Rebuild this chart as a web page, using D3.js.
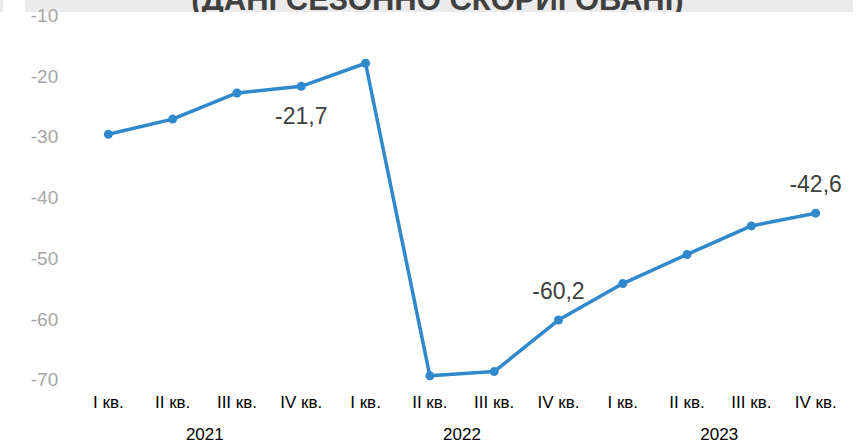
<!DOCTYPE html>
<html>
<head>
<meta charset="utf-8">
<script src="https://cdn.jsdelivr.net/npm/d3@7"></script>
<style>
  body { margin: 0; background: #fff; }
  text { font-family: "Liberation Sans", Arial, sans-serif; }
</style>
</head>
<body>
<div id="chart"></div>
<script>
var width = 861,
    height = 445;

// data
var quarters = ["I кв.", "II кв.", "III кв.", "IV кв.",
                "I кв.", "II кв.", "III кв.", "IV кв.",
                "I кв.", "II кв.", "III кв.", "IV кв."];
var years = ["2021", "2022", "2023"];
var values = [-29.6, -27.1, -22.8, -21.7, -17.9, -69.4, -68.7, -60.2, -54.2, -49.4, -44.7, -42.6];
var yTicks = [-10, -20, -30, -40, -50, -60, -70];
var labelIdx = [3, 7, 11],      // points that carry a value label
    labelBelow = [true, false, false];
var title = "(ДАНІ СЕЗОННО СКОРИГОВАНІ)";

var lineColor = "#2f89cc";

// scales
var x = d3.scaleBand()
  .domain(d3.range(values.length))
  .range([76.2, 847.8]);
var y = d3.scaleLinear()
  .domain([-70, -10])
  .range([379.5, 15.3]);

var cx = function(i) { return x(i) + x.bandwidth()/2; };

var svg = d3.select("#chart")
  .append("svg")
  .attr("width", width)
  .attr("height", height);

// TITLE (cut off at the top)
svg.append("clipPath")
  .attr("id", "titleClip")
  .append("rect")
  .attr("x", 0).attr("y", 0)
  .attr("width", width).attr("height", 12);

svg.append("rect")
  .attr("x", 0).attr("y", 0)
  .attr("width", 3).attr("height", 12)
  .style("fill", "#ebebeb");
svg.append("rect")
  .attr("x", 25).attr("y", 0)
  .attr("width", 828).attr("height", 12)
  .style("fill", "#ebebeb");

svg.append("text")
  .attr("clip-path", "url(#titleClip)")
  .attr("x", 437.5)
  .attr("y", 9.5)
  .attr("text-anchor", "middle")
  .style("font-size", "31px")
  .style("font-weight", "bold")
  .style("fill", "#404040")
  .text(title);

// Y AXIS (labels only)
var yAxis = d3.axisLeft(y)
  .tickValues(yTicks)
  .tickSize(0)
  .tickPadding(18)
  .tickFormat(d3.format("d"));

svg.append("g")
  .attr("transform", "translate(76.2,0)")
  .call(yAxis)
  .call(function(g) { g.select(".domain").remove(); })
  .selectAll("text")
  .attr("dy", "0.33em")
  .style("font-family", "Liberation Sans, Arial, sans-serif")
  .style("font-size", "19px")
  .style("fill", "#a6a6a6")
  .text(function(d) { return d3.format("d")(d).replace("−", "-"); });

// X AXIS (quarters)
var xAxis = d3.axisBottom(x)
  .tickSize(0)
  .tickFormat(function(i) { return quarters[i]; });

svg.append("g")
  .call(xAxis)
  .call(function(g) { g.select(".domain").remove(); })
  .selectAll("text")
  .attr("y", 408)
  .attr("dy", 0)
  .style("font-family", "Liberation Sans, Arial, sans-serif")
  .style("font-size", "17px")
  .style("fill", "#000");

// years under each group of four quarters
svg.selectAll(".year")
  .data(years)
  .enter().append("text")
  .attr("class", "year")
  .attr("x", function(d, k) { return (x(4*k) + x(4*k + 3) + x.bandwidth())/2; })
  .attr("y", 440)
  .attr("text-anchor", "middle")
  .style("font-size", "17px")
  .style("fill", "#000")
  .text(function(d) { return d; });

// LINE
var line = d3.line()
  .x(function(d, i) { return cx(i); })
  .y(function(d) { return y(d); });

svg.append("path")
  .datum(values)
  .attr("d", line)
  .style("fill", "none")
  .style("stroke", lineColor)
  .style("stroke-width", "3.5px")
  .style("stroke-linejoin", "round");

svg.selectAll(".dot")
  .data(values)
  .enter().append("circle")
  .attr("class", "dot")
  .attr("cx", function(d, i) { return cx(i); })
  .attr("cy", function(d) { return y(d); })
  .attr("r", 4.5)
  .style("fill", lineColor);

// value labels
svg.selectAll(".vlabel")
  .data(labelIdx)
  .enter().append("text")
  .attr("class", "vlabel")
  .attr("x", function(i) { return cx(i); })
  .attr("y", function(i, k) { return labelBelow[k] ? y(values[i]) + 38 : y(values[i]) - 21.5; })
  .attr("text-anchor", "middle")
  .style("font-size", "23px")
  .style("fill", "#404040")
  .text(function(i) { return String(values[i]).replace(".", ","); });
</script>
</body>
</html>
